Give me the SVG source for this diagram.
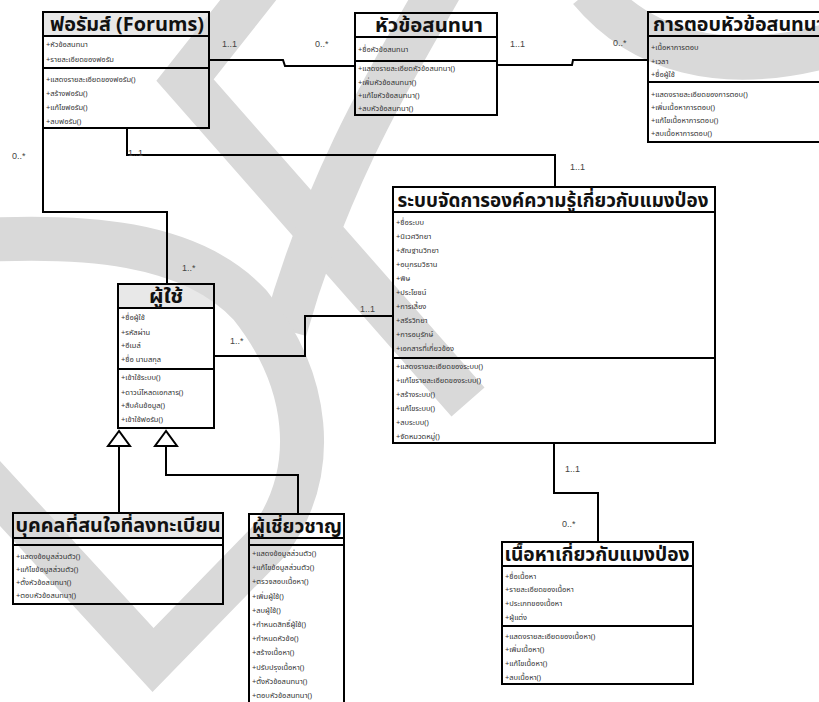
<svg xmlns="http://www.w3.org/2000/svg" width="819" height="702" viewBox="0 0 819 702">
<style>
.wm{fill:none;stroke:#d9d9d9;stroke-width:44;stroke-linejoin:miter}
.box{fill:none;stroke:#000;stroke-width:2}
.hdr{fill:#e8e8e8;stroke:none}
.ln{fill:none;stroke:#000;stroke-width:2}
.title{font-family:Tahoma,"Noto Sans Thai","DejaVu Sans",sans-serif;font-weight:bold;font-size:19px;fill:#111;text-anchor:middle}
.it{font-family:Tahoma,"Noto Sans Thai","DejaVu Sans",sans-serif;font-size:7.5px;fill:#333}
.lb{font-family:"Liberation Sans",Arial,sans-serif;font-size:9px;fill:#444}
.tri{fill:#fff;stroke:#000;stroke-width:2}
</style>
<rect width="819" height="702" fill="#fff"/>
<g id="header-fills">
<rect class="hdr" x="43" y="12" width="166" height="24"/>
<rect class="hdr" x="118" y="284" width="96" height="24"/>
<rect class="hdr" x="13" y="513" width="210" height="25"/>
</g>
<g id="watermark">
<path class="wm" d="M268,-25 L185,80 L468,402"/>
<path class="wm" d="M445,-20 C400,60 330,170 285,330"/>
<path class="wm" d="M-40,450 L153,660 L270,540 C320,470 310,380 250,305 C190,240 80,235 -20,240"/>
<path class="wm" d="M590,-10 C640,50 720,75 830,45"/>
</g>
<g id="connectors">
<polyline class="ln" points="209,60 283,60 285,66 355,66"/>
<polyline class="ln" points="497,65 572,65 573,60 648,60"/>
<polyline class="ln" points="127,128 127,155 555,155 555,187"/>
<polyline class="ln" points="43,128 43,212 167,212 167,284"/>
<polyline class="ln" points="214,356 305,356 305,316 393,316"/>
<polyline class="ln" points="554,443 554,493 598,493 598,542"/>
<polyline class="ln" points="119,446 119,513"/>
<polyline class="ln" points="166,446 166,475 298,475 298,514"/>
<polygon class="tri" points="119,431 108,446 130,446"/>
<polygon class="tri" points="166,431 155,446 177,446"/>
<text class="lb" x="222" y="47">1..1</text>
<text class="lb" x="315" y="47">0..*</text>
<text class="lb" x="510" y="47">1..1</text>
<text class="lb" x="613" y="46">0..*</text>
<text class="lb" x="128" y="156">1..1</text>
<text class="lb" x="570" y="170">1..1</text>
<text class="lb" x="12" y="159">0..*</text>
<text class="lb" x="182" y="271">1..*</text>
<text class="lb" x="230" y="344">1..*</text>
<text class="lb" x="360" y="312">1..1</text>
<text class="lb" x="565" y="472">1..1</text>
<text class="lb" x="562" y="527">0..*</text>
</g>
<g id="forums">
<rect class="box" x="43" y="12" width="166" height="116"/>
<line class="ln" x1="43" y1="36" x2="209" y2="36"/>
<line class="ln" x1="43" y1="68" x2="209" y2="68"/>
<text class="title" x="127" y="31" textLength="154" lengthAdjust="spacingAndGlyphs">ฟอรัมส์ (Forums)</text>
<text class="it" x="46" y="47">+หัวข้อสนทนา</text>
<text class="it" x="46" y="62">+รายละเอียดของฟอรัม</text>
<text class="it" x="46" y="82">+แสดงรายละเอียดของฟอรัม()</text>
<text class="it" x="46" y="96">+สร้างฟอรัม()</text>
<text class="it" x="46" y="110">+แก้ไขฟอรัม()</text>
<text class="it" x="46" y="124">+ลบฟอรัม()</text>
</g>
<g id="topic">
<rect class="box" x="355" y="13" width="142" height="102"/>
<line class="ln" x1="355" y1="37" x2="497" y2="37"/>
<line class="ln" x1="355" y1="61" x2="497" y2="61"/>
<text class="title" x="429" y="32" textLength="108" lengthAdjust="spacingAndGlyphs">หัวข้อสนทนา</text>
<text class="it" x="358" y="52">+ชื่อหัวข้อสนทนา</text>
<text class="it" x="358" y="71">+แสดงรายละเอียดหัวข้อสนทนา()</text>
<text class="it" x="358" y="85">+เพิ่มหัวข้อสนทนา()</text>
<text class="it" x="358" y="98">+แก้ไขหัวข้อสนทนา()</text>
<text class="it" x="358" y="111">+ลบหัวข้อสนทนา()</text>
</g>
<g id="reply">
<rect class="box" x="648" y="12" width="190" height="130"/>
<line class="ln" x1="648" y1="36" x2="819" y2="36"/>
<line class="ln" x1="648" y1="82" x2="819" y2="82"/>
<text class="title" x="653" y="31" style="text-anchor:start" textLength="172" lengthAdjust="spacingAndGlyphs">การตอบหัวข้อสนทนา</text>
<text class="it" x="651" y="50">+เนื้อหาการตอบ</text>
<text class="it" x="651" y="64">+เวลา</text>
<text class="it" x="651" y="77">+ชื่อผู้ใช้</text>
<text class="it" x="651" y="97">+แสดงรายละเอียดของการตอบ()</text>
<text class="it" x="651" y="110">+เพิ่มเนื้อหาการตอบ()</text>
<text class="it" x="651" y="123">+แก้ไขเนื้อหาการตอบ()</text>
<text class="it" x="651" y="136">+ลบเนื้อหาการตอบ()</text>
</g>
<g id="system">
<rect class="box" x="393" y="187" width="322" height="256"/>
<line class="ln" x1="393" y1="212" x2="715" y2="212"/>
<line class="ln" x1="393" y1="358" x2="715" y2="358"/>
<text class="title" x="553" y="207" textLength="311" lengthAdjust="spacingAndGlyphs">ระบบจัดการองค์ความรู้เกี่ยวกับแมงป่อง</text>
<text class="it" x="396" y="225">+ชื่อระบบ</text>
<text class="it" x="396" y="239">+นิเวศวิทยา</text>
<text class="it" x="396" y="253">+สัณฐานวิทยา</text>
<text class="it" x="396" y="267">+อนุกรมวิธาน</text>
<text class="it" x="396" y="281">+พิษ</text>
<text class="it" x="396" y="295">+ประโยชน์</text>
<text class="it" x="396" y="309">+การเลี้ยง</text>
<text class="it" x="396" y="323">+สรีรวิทยา</text>
<text class="it" x="396" y="337">+การอนุรักษ์</text>
<text class="it" x="396" y="351">+เอกสารที่เกี่ยวข้อง</text>
<text class="it" x="396" y="369">+แสดงรายละเอียดของระบบ()</text>
<text class="it" x="396" y="383">+แก้ไขรายละเอียดของระบบ()</text>
<text class="it" x="396" y="397">+สร้างระบบ()</text>
<text class="it" x="396" y="411">+แก้ไขระบบ()</text>
<text class="it" x="396" y="425">+ลบระบบ()</text>
<text class="it" x="396" y="439">+จัดหมวดหมู่()</text>
</g>
<g id="user">
<rect class="box" x="118" y="284" width="96" height="144"/>
<line class="ln" x1="118" y1="308" x2="214" y2="308"/>
<line class="ln" x1="118" y1="369" x2="214" y2="369"/>
<text class="title" x="166" y="303" textLength="34" lengthAdjust="spacingAndGlyphs">ผู้ใช้</text>
<text class="it" x="121" y="320">+ชื่อผู้ใช้</text>
<text class="it" x="121" y="335">+รหัสผ่าน</text>
<text class="it" x="121" y="348">+อีเมล์</text>
<text class="it" x="121" y="362">+ชื่อ นามสกุล</text>
<text class="it" x="121" y="380">+เข้าใช้ระบบ()</text>
<text class="it" x="121" y="395">+ดาวน์โหลดเอกสาร()</text>
<text class="it" x="121" y="408">+สืบค้นข้อมูล()</text>
<text class="it" x="121" y="422">+เข้าใช้ฟอรัม()</text>
</g>
<g id="member">
<rect class="box" x="13" y="513" width="210" height="91"/>
<line class="ln" x1="13" y1="538" x2="223" y2="538"/>
<line class="ln" x1="13" y1="545" x2="223" y2="545"/>
<text class="title" x="118" y="532" textLength="205" lengthAdjust="spacingAndGlyphs">บุคคลที่สนใจที่ลงทะเบียน</text>
<text class="it" x="16" y="559">+แสดงข้อมูลส่วนตัว()</text>
<text class="it" x="16" y="572">+แก้ไขข้อมูลส่วนตัว()</text>
<text class="it" x="16" y="585">+ตั้งหัวข้อสนทนา()</text>
<text class="it" x="16" y="598">+ตอบหัวข้อสนทนา()</text>
</g>
<g id="expert">
<rect class="box" x="249" y="514" width="95" height="200"/>
<line class="ln" x1="249" y1="538" x2="344" y2="538"/>
<line class="ln" x1="249" y1="545" x2="344" y2="545"/>
<text class="title" x="297" y="533" textLength="90" lengthAdjust="spacingAndGlyphs">ผู้เชี่ยวชาญ</text>
<text class="it" x="252" y="556">+แสดงข้อมูลส่วนตัว()</text>
<text class="it" x="252" y="570">+แก้ไขข้อมูลส่วนตัว()</text>
<text class="it" x="252" y="584">+ตรวจสอบเนื้อหา()</text>
<text class="it" x="252" y="599">+เพิ่มผู้ใช้()</text>
<text class="it" x="252" y="613">+ลบผู้ใช้()</text>
<text class="it" x="252" y="627">+กำหนดสิทธิ์ผู้ใช้()</text>
<text class="it" x="252" y="641">+กำหนดหัวข้อ()</text>
<text class="it" x="252" y="655">+สร้างเนื้อหา()</text>
<text class="it" x="252" y="670">+ปรับปรุงเนื้อหา()</text>
<text class="it" x="252" y="684">+ตั้งหัวข้อสนทนา()</text>
<text class="it" x="252" y="698">+ตอบหัวข้อสนทนา()</text>
</g>
<g id="content">
<rect class="box" x="502" y="542" width="191" height="142"/>
<line class="ln" x1="502" y1="566" x2="693" y2="566"/>
<line class="ln" x1="502" y1="626" x2="693" y2="626"/>
<text class="title" x="597" y="561" textLength="185" lengthAdjust="spacingAndGlyphs">เนื้อหาเกี่ยวกับแมงป่อง</text>
<text class="it" x="505" y="579">+ชื่อเนื้อหา</text>
<text class="it" x="505" y="592">+รายละเอียดของเนื้อหา</text>
<text class="it" x="505" y="606">+ประเภทของเนื้อหา</text>
<text class="it" x="505" y="620">+ผู้แต่ง</text>
<text class="it" x="505" y="639">+แสดงรายละเอียดของเนื้อหา()</text>
<text class="it" x="505" y="652">+เพิ่มเนื้อหา()</text>
<text class="it" x="505" y="666">+แก้ไขเนื้อหา()</text>
<text class="it" x="505" y="680">+ลบเนื้อหา()</text>
</g>
</svg>
